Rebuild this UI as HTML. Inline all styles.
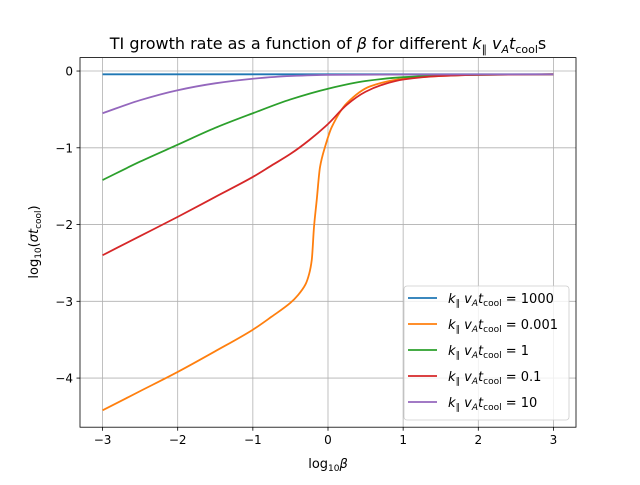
<!DOCTYPE html>
<html><head><meta charset="utf-8"><style>
body{margin:0;background:#fff;}
svg{font-family:"DejaVu Sans","Liberation Sans",sans-serif;}
</style></head><body>
<svg id="chart" width="640" height="480" viewBox="0 0 640 480">
<rect width="640" height="480" fill="#fff"/>
<g id="grid"></g>
<g id="series"></g>
<rect x="80" y="57.6" width="496" height="369.6" fill="none" stroke="#000" stroke-width="0.8"/>
<g id="ticks"></g>
<text x="328" y="49" font-size="16" text-anchor="middle">TI growth rate as a function of <tspan font-style="italic">β</tspan> for different <tspan font-style="italic">k</tspan><tspan font-size="11" dy="4">∥</tspan><tspan dy="-4"> </tspan><tspan font-style="italic">v</tspan><tspan font-size="11" dy="4" font-style="italic">A</tspan><tspan dy="-4" font-style="italic">t</tspan><tspan font-size="11" dy="4">cool</tspan><tspan dy="-4">s</tspan></text>
<text x="328" y="468" font-size="13" text-anchor="middle">log<tspan font-size="9" dy="3">10</tspan><tspan dy="-3" font-style="italic">β</tspan></text>
<text transform="translate(38,242) rotate(-90)" font-size="13" text-anchor="middle">log<tspan font-size="9" dy="3">10</tspan><tspan dy="-3">(</tspan><tspan font-style="italic">σt</tspan><tspan font-size="9" dy="3">cool</tspan><tspan dy="-3">)</tspan></text>
<g id="legend"></g>
</svg>
<script>
const xTicks=[-3,-2,-1,0,1,2,3];
const yTicks=[0,-1,-2,-3,-4];
const labels=["1000","0.001","1","0.1","10"];
const colors=["#1f77b4","#ff7f0e","#2ca02c","#d62728","#9467bd"];
const x1000=[-3,3];
const y1000=[-0.043,-0.043];
const x0001=[-3,-2.5,-2,-1.5,-1,-0.75,-0.5,-0.4,-0.3,-0.25,-0.216,-0.186,-0.15,-0.106,-0.04,0.05,0.25,0.56,1,1.5,2,2.5,3];
const y0001=[-4.42,-4.17,-3.92,-3.65,-3.37,-3.2,-3.02,-2.92,-2.78,-2.64,-2.46,-2.03,-1.68,-1.25,-0.99,-0.73,-0.42,-0.2,-0.10,-0.065,-0.05,-0.045,-0.043];
const x1=[-3,-2.5,-2,-1.5,-1,-0.5,0,0.5,1,1.5,2,3];
const y1=[-1.42,-1.18,-0.96,-0.74,-0.55,-0.37,-0.23,-0.13,-0.08,-0.06,-0.05,-0.043];
const x01=[-3,-2.5,-2,-1.5,-1,-0.75,-0.5,-0.25,0,0.25,0.5,0.75,1,1.5,2,3];
const y01=[-2.40,-2.15,-1.90,-1.64,-1.38,-1.23,-1.08,-0.90,-0.69,-0.44,-0.27,-0.17,-0.11,-0.065,-0.05,-0.043];
const x10=[-3,-2.5,-2,-1.5,-1,-0.5,0,1,3];
const y10=[-0.55,-0.38,-0.25,-0.16,-0.10,-0.065,-0.05,-0.045,-0.043];
const L=80,R=576,T=57.6,B=427.2,XMIN=-3.3,XMAX=3.3,YMIN=-4.64,YMAX=0.175;
const sx=v=>L+(v-XMIN)/(XMAX-XMIN)*(R-L);
const sy=v=>T+(YMAX-v)/(YMAX-YMIN)*(B-T);
const NS="http://www.w3.org/2000/svg";
function mk(tag,parent,attrs){const e=document.createElementNS(NS,tag);for(const k in attrs)e.setAttribute(k,attrs[k]);parent.appendChild(e);return e;}
function monoPath(xs,ys){
 const n=xs.length,px=xs.map(sx),py=ys.map(sy);
 if(n<3){return 'M'+px.map((x,i)=>x.toFixed(2)+','+py[i].toFixed(2)).join(' L');}
 const d=[],m=new Array(n);
 for(let i=0;i<n-1;i++)d.push((py[i+1]-py[i])/(px[i+1]-px[i]));
 m[0]=d[0];m[n-1]=d[n-2];
 for(let i=1;i<n-1;i++){m[i]=(d[i-1]*d[i]<=0)?0:2/(1/d[i-1]+1/d[i]);}
 let s='M'+px[0].toFixed(2)+','+py[0].toFixed(2);
 for(let i=0;i<n-1;i++){const h=(px[i+1]-px[i])/3;
  s+=' C'+(px[i]+h).toFixed(2)+','+(py[i]+m[i]*h).toFixed(2)+' '+(px[i+1]-h).toFixed(2)+','+(py[i+1]-m[i+1]*h).toFixed(2)+' '+px[i+1].toFixed(2)+','+py[i+1].toFixed(2);}
 return s;
}
const grid=document.getElementById('grid'),ticks=document.getElementById('ticks');
xTicks.forEach(v=>{
 const g=mk('line',grid,{x1:sx(v),x2:sx(v),y1:T,y2:B,stroke:'#b0b0b0','stroke-width':0.8});
 
 
 const t=mk('line',ticks,{x1:sx(v),x2:sx(v),y1:B,y2:B+3.5,stroke:'#000','stroke-width':0.8});
 
 
 const tx=mk('text',ticks,{x:sx(v),y:B+17,'font-size':12,'text-anchor':'middle'});
 tx.textContent=(v<0?'−'+(-v):String(v));
 
 
});
yTicks.forEach(v=>{
 const g=mk('line',grid,{x1:L,x2:R,y1:sy(v),y2:sy(v),stroke:'#b0b0b0','stroke-width':0.8});
 
 
 const t=mk('line',ticks,{x1:L-3.5,x2:L,y1:sy(v),y2:sy(v),stroke:'#000','stroke-width':0.8});
 
 
 const tx=mk('text',ticks,{x:L-7,y:sy(v)+4.5,'font-size':12,'text-anchor':'end'});
 tx.textContent=(v<0?'−'+(-v):String(v));
 
 
});
const series=[[x1000,y1000],[x0001,y0001],[x1,y1],[x01,y01],[x10,y10]];
const sg=document.getElementById('series');
series.forEach((s,i)=>{
 const p=mk('path',sg,{d:monoPath(s[0],s[1]),fill:'none',stroke:colors[i],'stroke-width':1.8,'stroke-linejoin':'round'});
 
 
});
const lg=document.getElementById('legend');
const box=mk('rect',lg,{x:404,y:286,width:165,height:134,rx:3,fill:'#fff','fill-opacity':0.8,stroke:'#ccc','stroke-width':0.8});


labels.forEach((lab,i)=>{
 const y=298+i*26;
 const ln=mk('line',lg,{x1:408,x2:437,y1:y,y2:y,stroke:colors[i],'stroke-width':1.8});
 
 
 const t=mk('text',lg,{x:448,y:y+5,'font-size':13});
 t.innerHTML='<tspan font-style="italic">k</tspan><tspan font-size="9" dy="3">∥</tspan><tspan dy="-3"> </tspan><tspan font-style="italic">v</tspan><tspan font-size="9" dy="3" font-style="italic">A</tspan><tspan dy="-3" font-style="italic">t</tspan><tspan font-size="9" dy="3">cool</tspan><tspan dy="-3"> = '+lab+'</tspan>';
 
 
});
</script>
</body></html>
